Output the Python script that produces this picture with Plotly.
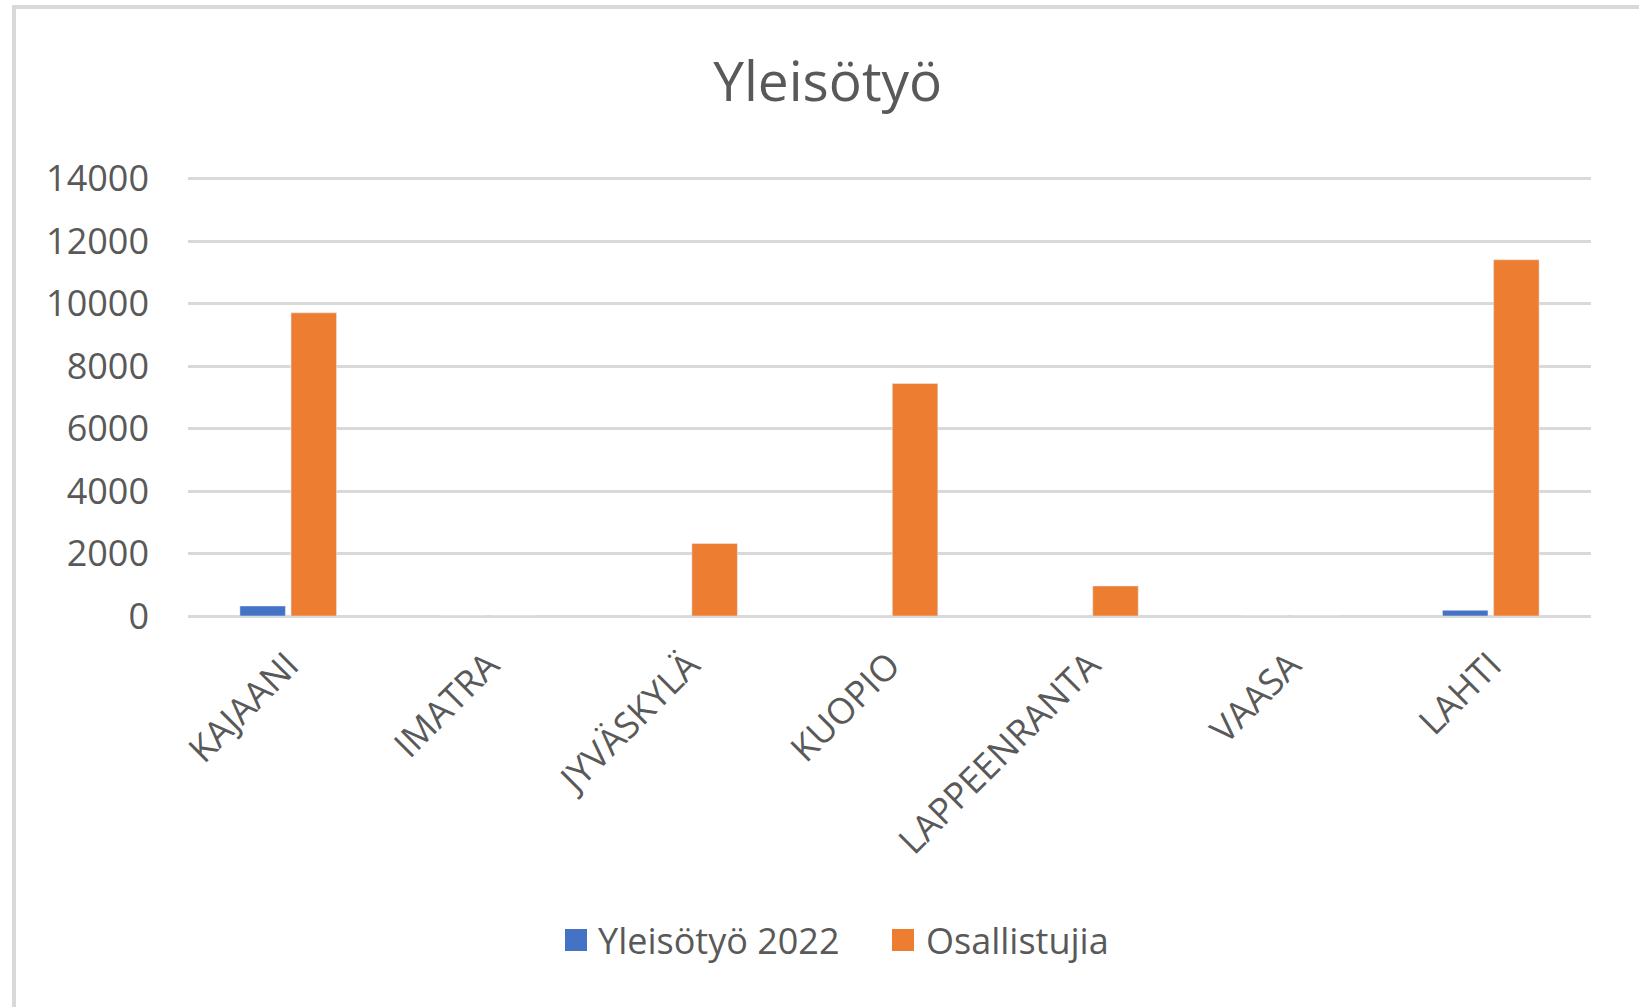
import plotly.graph_objects as go

categories = ["KAJAANI", "IMATRA", "JYVÄSKYLÄ", "KUOPIO", "LAPPEENRANTA", "VAASA", "LAHTI"]
yleisotyo_2022 = [320, 0, 0, 0, 0, 0, 180]
osallistujia = [9700, 0, 2320, 7440, 960, 0, 11400]
y_ticks = [0, 2000, 4000, 6000, 8000, 10000, 12000, 14000]
y_ticktext = [str(v) for v in y_ticks]
series_names = ["Yleisötyö 2022", "Osallistujia"]

BLUE = "#4472C4"
ORANGE = "#ED7D31"
TEXT = "#595959"
GRID = "#D9D9D9"
FONT = "Open Sans, Liberation Sans, sans-serif"

W, H = 1639, 1007
L, R, T, B = 188, 1591, 177, 616  # plot area in pixels
YMAX = 14000 * (1 + 1.5 / (B - T))  # tiny headroom so the 14000 gridline is drawn


def px_x(p):
    return (p - L) / (R - L)


def px_y(p):
    return (B - p) / (B - T)


fig = go.Figure()
fig.add_trace(go.Bar(x=categories, y=yleisotyo_2022, name=series_names[0],
                     marker_color=BLUE, showlegend=False))
fig.add_trace(go.Bar(x=categories, y=osallistujia, name=series_names[1],
                     marker_color=ORANGE, showlegend=False))

# custom legend (large square swatches like the original)
legend_items = [(series_names[0], BLUE, 565, 596), (series_names[1], ORANGE, 892, 924)]
shapes = []
annotations = []
for name, col, sx, tx in legend_items:
    shapes.append(dict(type="rect", xref="paper", yref="paper",
                       x0=px_x(sx), x1=px_x(sx + 22), y0=px_y(951), y1=px_y(929),
                       fillcolor=col, line=dict(width=0)))
    annotations.append(dict(text=name, xref="paper", yref="paper",
                            x=px_x(tx), y=px_y(940), xanchor="left", yanchor="middle",
                            showarrow=False, font=dict(size=36, color=TEXT, family=FONT)))

# chart-area border (left and top edges visible)
shapes.append(dict(type="line", xref="paper", yref="paper",
                   x0=px_x(14), x1=px_x(14), y0=px_y(5), y1=px_y(1010),
                   line=dict(color=GRID, width=4)))
shapes.append(dict(type="line", xref="paper", yref="paper",
                   x0=px_x(12), x1=px_x(1645), y0=px_y(7), y1=px_y(7),
                   line=dict(color=GRID, width=4)))

fig.update_layout(
    width=W, height=H,
    margin=dict(l=L, r=W - R, t=T, b=H - B, autoexpand=False),
    paper_bgcolor="white", plot_bgcolor="white",
    barmode="group", bargap=0.49, bargroupgap=0.11,
    font=dict(family=FONT, color=TEXT, size=36),
    title=dict(text="Yleisötyö", x=0.505, xanchor="center", xref="container",
               y=1 - 82 / H, yanchor="middle", yref="container",
               font=dict(size=55, color=TEXT, family=FONT)),
    showlegend=False,
    xaxis=dict(type="category", tickangle=-45, showgrid=False, showline=False,
               zeroline=False, ticks="", ticklabelstandoff=20,
               tickfont=dict(size=36, color=TEXT, family=FONT)),
    yaxis=dict(range=[0, YMAX], tickvals=y_ticks, ticktext=y_ticktext,
               showgrid=True, gridcolor=GRID,
               gridwidth=2.5, zeroline=True, zerolinecolor=GRID, zerolinewidth=2.5,
               showline=False, ticks="", ticklabelstandoff=38,
               tickfont=dict(size=36, color=TEXT, family=FONT)),
    shapes=shapes,
    annotations=annotations,
)

fig.write_html("out.html", config={"displayModeBar": False},
               post_script="document.body.style.margin='0px';document.body.style.overflow='hidden';")
